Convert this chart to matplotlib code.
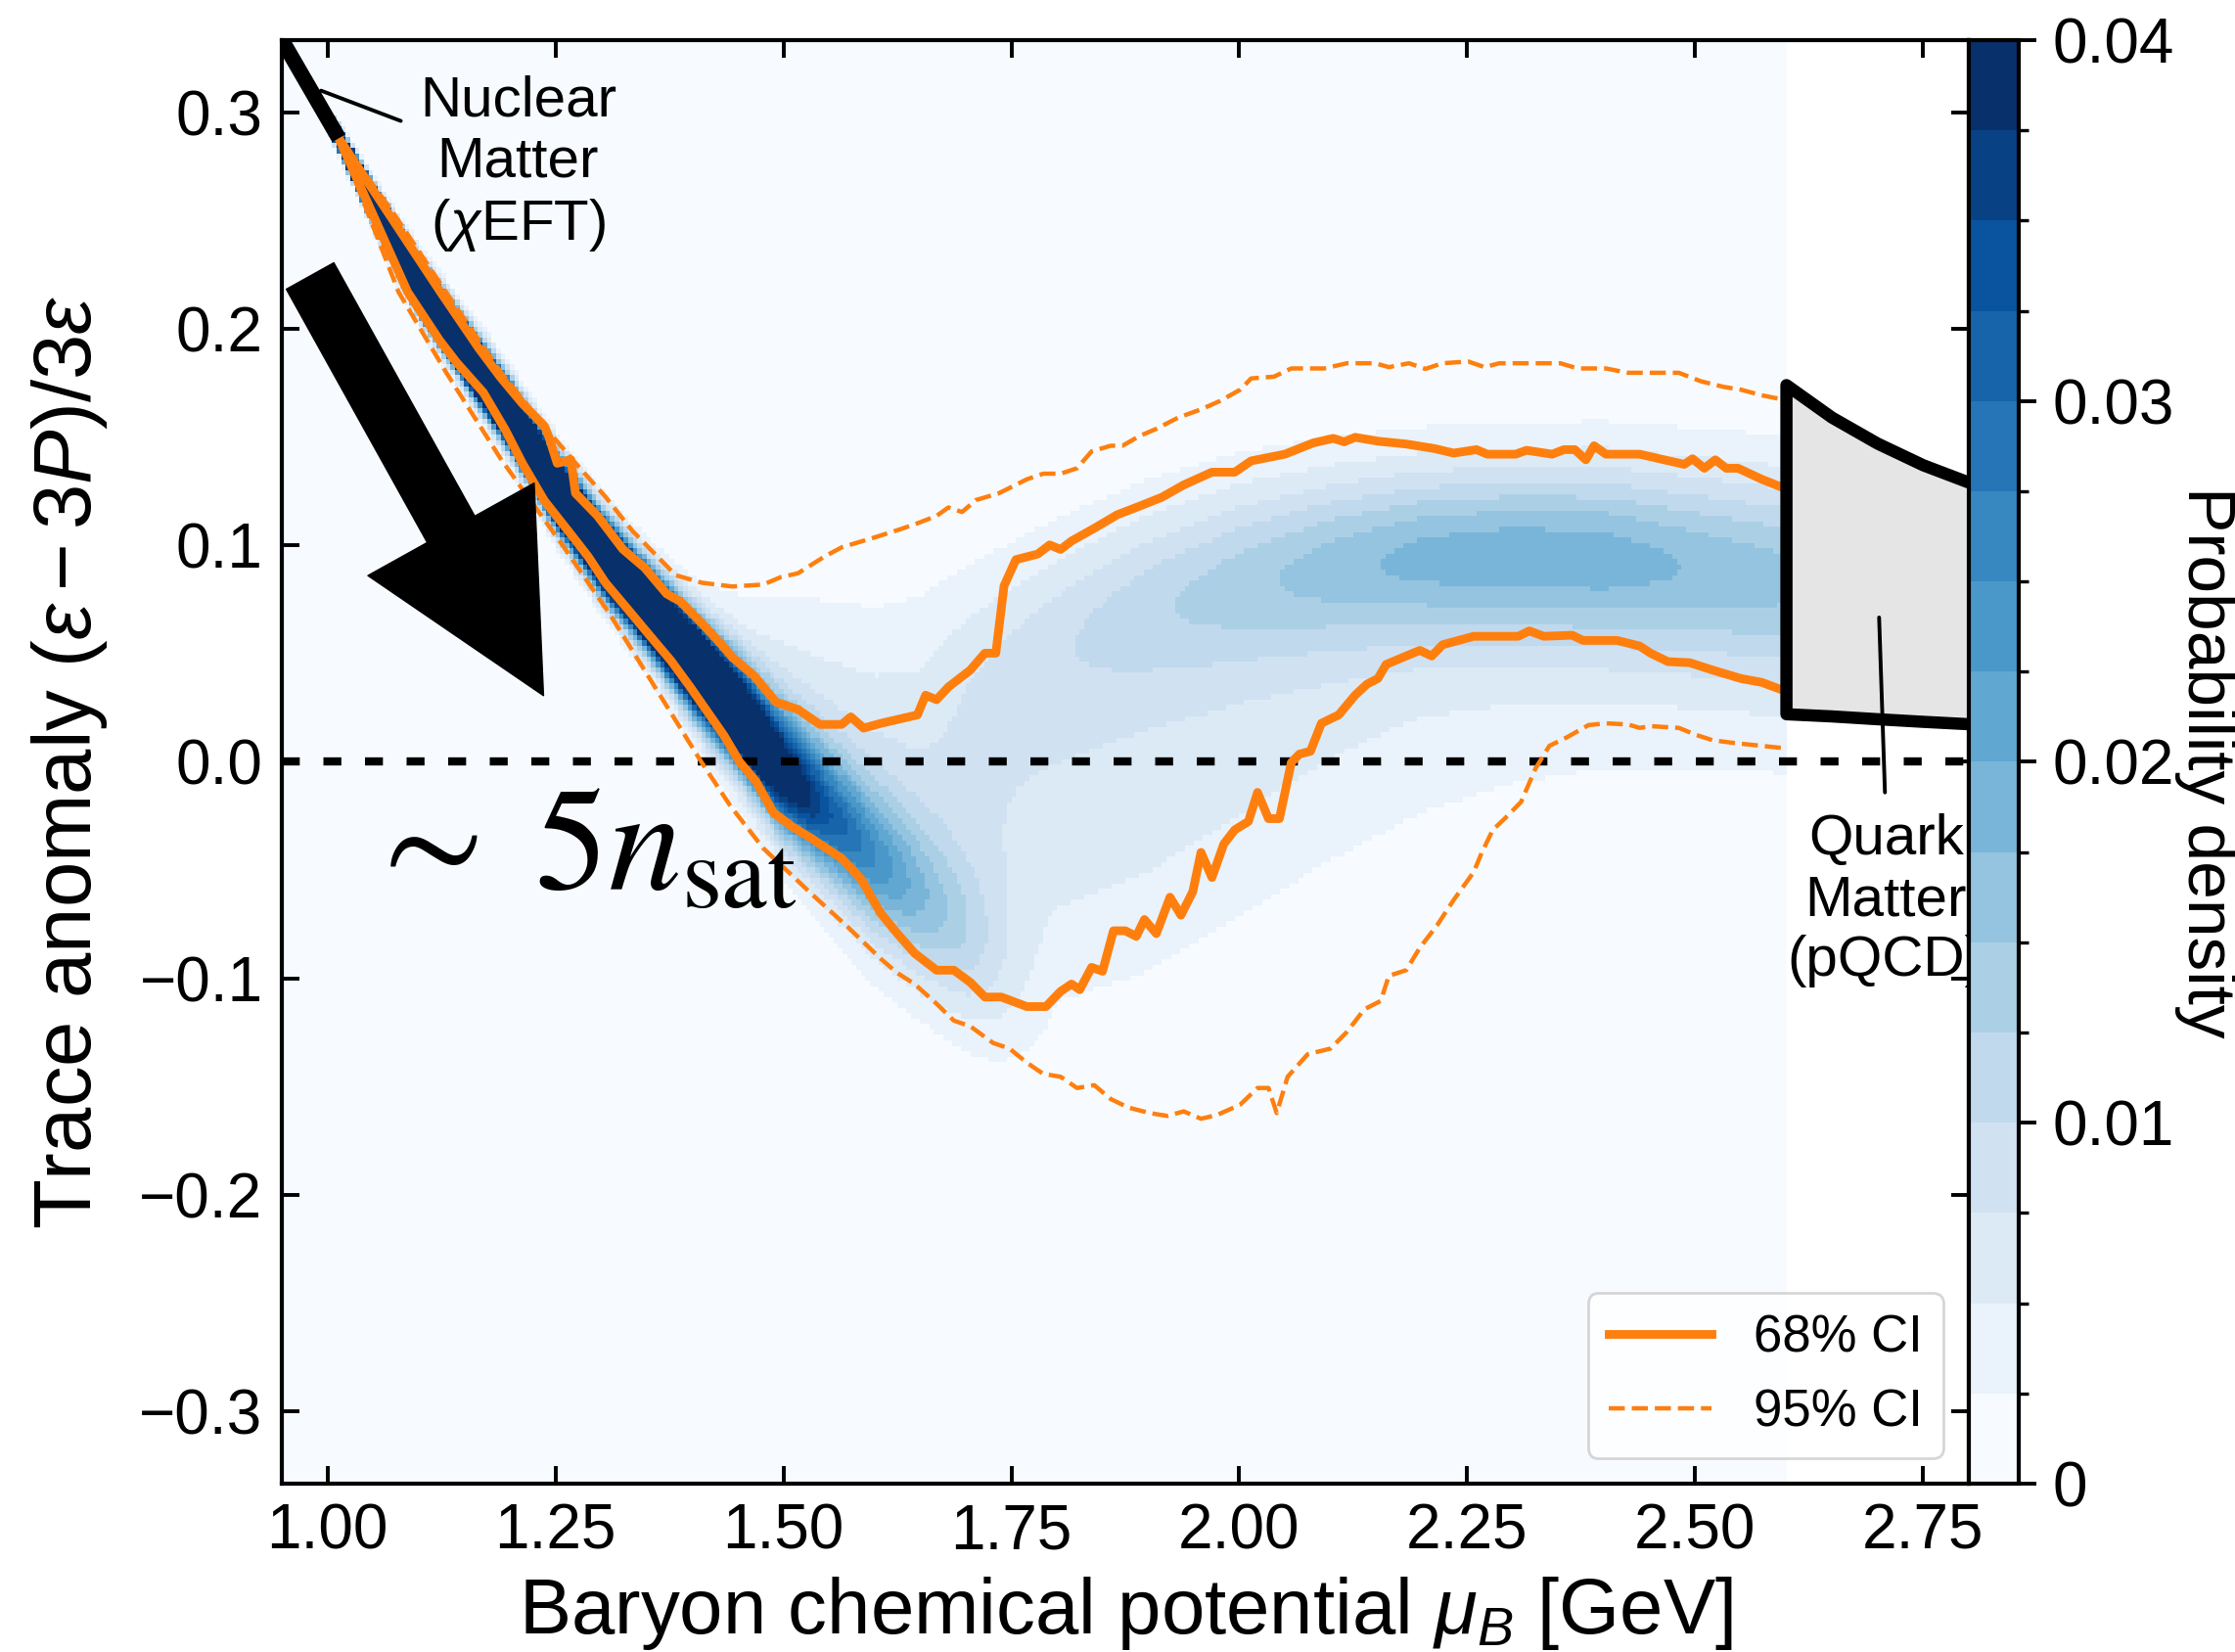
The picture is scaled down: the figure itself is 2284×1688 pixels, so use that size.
import numpy as np
import matplotlib
matplotlib.use("Agg")
import matplotlib.pyplot as plt
from matplotlib.colors import BoundaryNorm
from matplotlib.ticker import MultipleLocator

plt.rcParams.update({
    "font.family": ["Liberation Sans", "DejaVu Sans"],
    "mathtext.fontset": "custom",
    "mathtext.rm": "Liberation Sans",
    "mathtext.it": "Liberation Sans:italic",
    "mathtext.bf": "Liberation Sans:bold",
})

# ---------------------------------------------------------------- data
# chiral EFT (nuclear matter) segment: mu_B [GeV], trace anomaly
CHIEFT_MU = [0.93, 1.0125]
CHIEFT_TA = [0.348, 0.288]

# 68% credible band edges (mu_B, trace anomaly)
CI68_UPPER = np.array([
    (1.0125, 0.288), (1.124, 0.217), (1.166, 0.191), (1.190, 0.1775), (1.214, 0.1654),
    (1.238, 0.1551), (1.243, 0.1499), (1.252, 0.1379), (1.267, 0.1396), (1.272, 0.1241),
    (1.296, 0.1137), (1.324, 0.0982), (1.348, 0.0896), (1.372, 0.0776), (1.387, 0.0741),
    (1.411, 0.0638), (1.430, 0.0552), (1.444, 0.0483), (1.468, 0.0397), (1.492, 0.0276),
    (1.516, 0.0242), (1.540, 0.0173), (1.564, 0.0173), (1.574, 0.0208), (1.588, 0.0156),
    (1.607, 0.0178), (1.647, 0.0217), (1.656, 0.0308), (1.668, 0.0287), (1.681, 0.0346),
    (1.705, 0.0424), (1.721, 0.0502), (1.733, 0.0502), (1.742, 0.0813), (1.755, 0.0934),
    (1.779, 0.0960), (1.792, 0.1002), (1.804, 0.0981), (1.816, 0.1020), (1.841, 0.1079),
    (1.866, 0.1141), (1.890, 0.1180), (1.915, 0.1222), (1.939, 0.1279), (1.970, 0.1338),
    (1.995, 0.1338), (2.013, 0.1390), (2.050, 0.1421), (2.081, 0.1473), (2.103, 0.1494),
    (2.115, 0.1478), (2.127, 0.1499), (2.152, 0.1481), (2.183, 0.1468), (2.214, 0.1447),
    (2.235, 0.1426), (2.260, 0.1442), (2.272, 0.1421), (2.303, 0.1421), (2.315, 0.1439),
    (2.343, 0.1421), (2.356, 0.1442), (2.368, 0.1442), (2.380, 0.1395), (2.389, 0.1460),
    (2.402, 0.1421), (2.439, 0.1421), (2.466, 0.1395), (2.488, 0.1374), (2.497, 0.1400),
    (2.510, 0.1356), (2.522, 0.1395), (2.534, 0.1356), (2.547, 0.1356), (2.573, 0.1305),
    (2.600, 0.1260),
])
CI68_LOWER = np.array([
    (1.0125, 0.288), (1.088, 0.217), (1.123, 0.1947), (1.142, 0.1843), (1.171, 0.1706),
    (1.195, 0.1534), (1.214, 0.1378), (1.238, 0.1206), (1.267, 0.1051), (1.286, 0.0948),
    (1.305, 0.0827), (1.329, 0.0707), (1.353, 0.0586), (1.377, 0.0466), (1.398, 0.0345),
    (1.415, 0.0242), (1.435, 0.0121), (1.452, 0.0000), (1.470, -0.0090), (1.489, -0.0234),
    (1.510, -0.0300), (1.531, -0.0354), (1.564, -0.0446), (1.585, -0.0540), (1.607, -0.0700),
    (1.625, -0.0793), (1.644, -0.0884), (1.668, -0.0962), (1.687, -0.0962), (1.705, -0.1018),
    (1.721, -0.1086), (1.739, -0.1086), (1.767, -0.1130), (1.788, -0.1130), (1.804, -0.1060),
    (1.816, -0.1026), (1.825, -0.1052), (1.838, -0.0949), (1.850, -0.0967), (1.862, -0.0780),
    (1.875, -0.0780), (1.887, -0.0806), (1.896, -0.0728), (1.909, -0.0793), (1.924, -0.0625),
    (1.936, -0.0708), (1.949, -0.0599), (1.958, -0.0418), (1.970, -0.0534), (1.983, -0.0379),
    (1.995, -0.0314), (2.010, -0.0275), (2.020, -0.0141), (2.032, -0.0262), (2.044, -0.0262),
    (2.057, -0.0003), (2.066, 0.0036), (2.078, 0.0049), (2.090, 0.0178), (2.109, 0.0217),
    (2.127, 0.0308), (2.140, 0.0359), (2.152, 0.0385), (2.161, 0.0450), (2.183, 0.0489),
    (2.198, 0.0515), (2.211, 0.0489), (2.223, 0.0541), (2.257, 0.0580), (2.306, 0.0580),
    (2.318, 0.0605), (2.334, 0.0580), (2.365, 0.0585), (2.377, 0.0561), (2.414, 0.0561),
    (2.439, 0.0535), (2.451, 0.0502), (2.470, 0.0463), (2.494, 0.0458), (2.519, 0.0424),
    (2.550, 0.0385), (2.573, 0.0367), (2.600, 0.0325),
])

# 95% credible band edges
CI95_UPPER = np.array([
    (1.0125, 0.288), (1.070, 0.255), (1.130, 0.217), (1.190, 0.180), (1.248, 0.1499),
    (1.276, 0.1361), (1.305, 0.1224), (1.334, 0.1069), (1.358, 0.0965), (1.382, 0.0862),
    (1.411, 0.0827), (1.444, 0.0810), (1.478, 0.0819), (1.497, 0.0853), (1.516, 0.0871),
    (1.545, 0.0948), (1.564, 0.0991), (1.598, 0.1034), (1.625, 0.1070), (1.644, 0.1097),
    (1.668, 0.1136), (1.681, 0.1175), (1.696, 0.1154), (1.711, 0.1209), (1.736, 0.1240),
    (1.767, 0.1305), (1.785, 0.1331), (1.804, 0.1331), (1.822, 0.1356), (1.838, 0.1434),
    (1.859, 0.1460), (1.872, 0.1460), (1.890, 0.1504), (1.909, 0.1538), (1.933, 0.1590),
    (1.958, 0.1628), (1.979, 0.1667), (2.001, 0.1719), (2.013, 0.1771), (2.038, 0.1779),
    (2.057, 0.1817), (2.093, 0.1817), (2.118, 0.1841), (2.149, 0.1841), (2.164, 0.1823),
    (2.186, 0.1841), (2.204, 0.1815), (2.223, 0.1841), (2.251, 0.1849), (2.269, 0.1823),
    (2.285, 0.1841), (2.352, 0.1841), (2.371, 0.1817), (2.402, 0.1817), (2.426, 0.1797),
    (2.482, 0.1797), (2.506, 0.1758), (2.531, 0.1732), (2.550, 0.1719), (2.573, 0.1693),
    (2.600, 0.1670),
])
CI95_LOWER = np.array([
    (1.0125, 0.288), (1.078, 0.217), (1.130, 0.180), (1.190, 0.140), (1.258, 0.100),
    (1.310, 0.068), (1.360, 0.034), (1.410, 0.000), (1.442, -0.0204), (1.478, -0.0399),
    (1.531, -0.0610), (1.570, -0.0760), (1.607, -0.0910), (1.625, -0.0975), (1.644, -0.1026),
    (1.668, -0.1117), (1.687, -0.1195), (1.705, -0.1221), (1.730, -0.1298), (1.748, -0.1324),
    (1.767, -0.1389), (1.785, -0.1441), (1.804, -0.1454), (1.822, -0.1506), (1.841, -0.1493),
    (1.859, -0.1557), (1.878, -0.1596), (1.902, -0.1622), (1.921, -0.1635), (1.939, -0.1614),
    (1.958, -0.1648), (1.976, -0.1630), (2.001, -0.1583), (2.020, -0.1506), (2.032, -0.1506),
    (2.041, -0.1622), (2.053, -0.1454), (2.075, -0.1350), (2.100, -0.1324), (2.118, -0.1247),
    (2.137, -0.1143), (2.155, -0.1104), (2.164, -0.0988), (2.183, -0.0962), (2.198, -0.0858),
    (2.217, -0.0754), (2.235, -0.0638), (2.257, -0.0509), (2.266, -0.0418), (2.278, -0.0314),
    (2.291, -0.0262), (2.309, -0.0185), (2.325, -0.0029), (2.340, 0.0074), (2.359, 0.0113),
    (2.383, 0.0170), (2.402, 0.0178), (2.426, 0.0173), (2.439, 0.0157), (2.451, 0.0165),
    (2.482, 0.0157), (2.500, 0.0126), (2.519, 0.0100), (2.543, 0.0087), (2.573, 0.0074),
    (2.600, 0.0062),
])

# perturbative QCD (quark matter) region
PQCD_MU = [2.60, 2.65, 2.70, 2.75, 2.80]
PQCD_TOP = [0.174, 0.159, 0.147, 0.137, 0.129]
PQCD_BOTTOM = [0.022, 0.021, 0.0197, 0.0185, 0.0174]

# posterior density: ridge components (node mu_B, centre, width, peak density)
RIDGE_MU = [1.000, 1.012, 1.05, 1.10, 1.15, 1.20, 1.25, 1.30, 1.35, 1.40, 1.45, 1.50,
            1.55, 1.60, 1.65, 1.70, 1.75, 1.80]
RIDGE_CENTRE = [0.297, 0.288, 0.258, 0.220, 0.190, 0.160, 0.126, 0.097, 0.072, 0.046,
                0.022, -0.005, -0.025, -0.045, -0.063, -0.080, -0.095, -0.105]
RIDGE_WIDTH = [0.003, 0.003, 0.005, 0.007, 0.008, 0.009, 0.010, 0.011, 0.012, 0.014,
               0.016, 0.019, 0.021, 0.023, 0.025, 0.027, 0.030, 0.030]
RIDGE_PEAK = [0.0, 0.15, 0.15, 0.14, 0.13, 0.12, 0.11, 0.10, 0.09, 0.075,
              0.058, 0.040, 0.027, 0.019, 0.013, 0.008, 0.003, 0.0]

UPPER_MU = [1.65, 1.70, 1.80, 1.90, 2.00, 2.10, 2.20, 2.30, 2.40, 2.50, 2.60]
UPPER_CENTRE = [0.035, 0.045, 0.060, 0.074, 0.085, 0.092, 0.096, 0.097, 0.096, 0.092, 0.088]
UPPER_WIDTH = [0.026, 0.027, 0.029, 0.030, 0.030, 0.029, 0.028, 0.028, 0.029, 0.030, 0.031]
UPPER_PEAK = [0.0, 0.002, 0.005, 0.008, 0.0105, 0.013, 0.015, 0.0155, 0.015, 0.013, 0.0115]

DIFFUSE_MU = [1.35, 1.40, 1.50, 1.60, 1.70, 1.80, 1.90, 2.00, 2.10, 2.20, 2.30, 2.40, 2.50, 2.60]
DIFFUSE_CENTRE = [0.07, 0.05, 0.02, -0.01, -0.015, -0.01, 0.0, 0.015, 0.03, 0.045, 0.055,
                  0.06, 0.06, 0.058]
DIFFUSE_WIDTH = [0.02, 0.025, 0.04, 0.055, 0.065, 0.07, 0.07, 0.065, 0.06, 0.058, 0.055,
                 0.053, 0.052, 0.052]
DIFFUSE_PEAK = [0.0, 0.004, 0.007, 0.0075, 0.0075, 0.007, 0.0065, 0.006, 0.0055, 0.005,
                0.005, 0.005, 0.005, 0.005]

CBAR_TICKS = [0.0, 0.01, 0.02, 0.03, 0.04]
CBAR_LABELS = ["0", "0.01", "0.02", "0.03", "0.04"]
LEVELS = np.linspace(0.0, 0.04, 17)

# ---------------------------------------------------------------- density grid
mu_edges = np.arange(0.95, 2.6 + 1e-9, 0.005)
ta_edges = np.linspace(-1 / 3, 1 / 3, 268)
mu_c = 0.5 * (mu_edges[1:] + mu_edges[:-1])
ta_c = 0.5 * (ta_edges[1:] + ta_edges[:-1])

density = np.zeros((ta_c.size, mu_c.size))
for nodes, centre, width, peak in (
        (RIDGE_MU, RIDGE_CENTRE, RIDGE_WIDTH, RIDGE_PEAK),
        (UPPER_MU, UPPER_CENTRE, UPPER_WIDTH, UPPER_PEAK),
        (DIFFUSE_MU, DIFFUSE_CENTRE, DIFFUSE_WIDTH, DIFFUSE_PEAK)):
    c = np.interp(mu_c, nodes, centre)
    s = np.interp(mu_c, nodes, width)
    a = np.interp(mu_c, nodes, peak, left=0.0, right=peak[-1])
    density += a[None, :] * np.exp(-0.5 * ((ta_c[:, None] - c[None, :]) / s[None, :]) ** 2)
density = np.clip(density, 0.0, LEVELS[-1] - 1e-6)

# ---------------------------------------------------------------- figure
fig = plt.figure(figsize=(11.42, 8.44), dpi=200)
ax = fig.add_axes([0.12609, 0.10190, 0.75482, 0.87382])
cax = fig.add_axes([0.88091, 0.10190, 0.02233, 0.87382])

cmap = plt.get_cmap("Blues")
norm = BoundaryNorm(LEVELS, ncolors=cmap.N)
mesh = ax.pcolormesh(mu_edges, ta_edges, density, cmap=cmap, norm=norm,
                     shading="flat", antialiased=False, linewidth=0, zorder=0)

ax.axhline(0.0, color="k", lw=3.0, ls=(0, (2.2, 2.9)), zorder=2)

orange = "#ff7f0e"
l68, = ax.plot(CI68_UPPER[:, 0], CI68_UPPER[:, 1], color=orange, lw=3.2, zorder=3,
               label="68% CI")
ax.plot(CI68_LOWER[:, 0], CI68_LOWER[:, 1], color=orange, lw=3.2, zorder=3)
l95, = ax.plot(CI95_UPPER[:, 0], CI95_UPPER[:, 1], color=orange, lw=1.6, ls="--",
               zorder=3, label="95% CI")
ax.plot(CI95_LOWER[:, 0], CI95_LOWER[:, 1], color=orange, lw=1.6, ls="--", zorder=3)

# nuclear matter segment
ax.plot(CHIEFT_MU, CHIEFT_TA, color="k", lw=5.6, solid_capstyle="butt", zorder=5)

# quark matter region
ax.fill_between(PQCD_MU, PQCD_BOTTOM, PQCD_TOP, color="#e5e5e5", lw=0, zorder=4)
outline_mu = list(PQCD_MU[::-1]) + list(PQCD_MU)
outline_ta = list(PQCD_TOP[::-1]) + list(PQCD_BOTTOM)
ax.plot(outline_mu, outline_ta, color="k", lw=4.5, solid_joinstyle="round",
        solid_capstyle="butt", zorder=5)

# annotations
ax.annotate("", xy=(0.993, 0.310), xytext=(1.0805, 0.296),
            arrowprops=dict(arrowstyle="-", lw=1.4, color="k", shrinkA=0, shrinkB=0))
ax.text(1.209, 0.276, "Nuclear\nMatter\n($\\chi$EFT)", ha="center", va="center",
        fontsize=21, linespacing=1.2, zorder=6)

ax.annotate("", xy=(2.7016, 0.0667), xytext=(2.708, -0.0141),
            arrowprops=dict(arrowstyle="-", lw=1.4, color="k", shrinkA=0, shrinkB=0),
            zorder=6)
ax.text(2.709, -0.064, "Quark\nMatter\n(pQCD)", ha="center", va="center",
        fontsize=21, linespacing=1.2, zorder=6)

ax.annotate("", xy=(1.237, 0.0306), xytext=(0.981, 0.2244),
            arrowprops=dict(arrowstyle="simple,head_length=70,head_width=70,tail_width=20",
                            mutation_scale=1, fc="k", ec="k", lw=0.5,
                            shrinkA=0, shrinkB=0),
            annotation_clip=False, zorder=6)
ax.text(1.038, -0.059, r"$\sim\;5n_{\mathrm{sat}}$", fontsize=54, math_fontfamily="stix",
        ha="left", va="baseline", zorder=6)

# axes
ax.set_xlim(0.95, 2.8)
ax.set_ylim(-1 / 3, 1 / 3)
ax.set_xticks([1.0, 1.25, 1.5, 1.75, 2.0, 2.25, 2.5, 2.75])
ax.set_yticks([-0.3, -0.2, -0.1, 0.0, 0.1, 0.2, 0.3])
ax.tick_params(which="major", direction="in", top=True, right=True, length=6.5,
               width=1.4, labelsize=23, pad=7)
for sp in ax.spines.values():
    sp.set_linewidth(1.5)
ax.set_xlabel(r"Baryon chemical potential $\mu_B$ [GeV]", fontsize=28.7, labelpad=5)
ax.set_ylabel(r"Trace anomaly $(\varepsilon - 3P)/3\varepsilon$", fontsize=30, labelpad=11)

leg = ax.legend(handles=[l68, l95], loc="lower right", fontsize=19)

# colour bar
cbar = fig.colorbar(mesh, cax=cax, ticks=CBAR_TICKS)
cbar.set_ticklabels(CBAR_LABELS)
cbar.ax.yaxis.set_minor_locator(MultipleLocator(0.0025))
cbar.ax.tick_params(which="major", direction="out", length=6.3, width=1.4,
                    labelsize=23, pad=6)
cbar.ax.tick_params(which="minor", direction="out", length=3.6, width=1.2)
cbar.outline.set_linewidth(1.5)
cbar.set_label("Probability density", rotation=270, fontsize=25, va="bottom", labelpad=0)

fig.savefig("out.png", dpi=200)
